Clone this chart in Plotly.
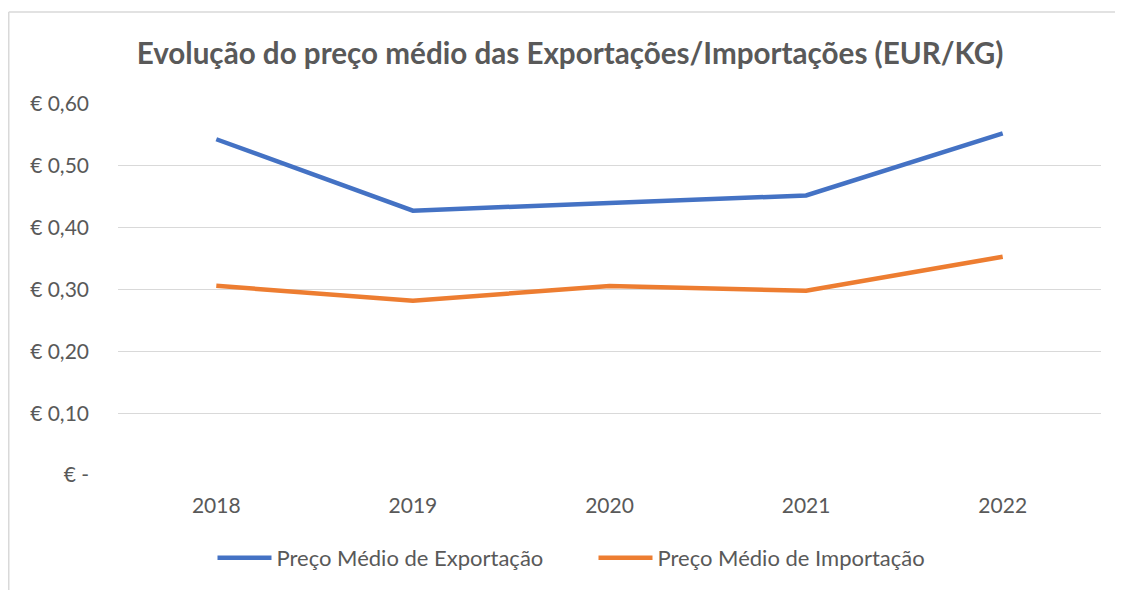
import plotly.graph_objects as go

years = ["2018", "2019", "2020", "2021", "2022"]
export_price = [0.543, 0.4275, 0.440, 0.452, 0.5525]
import_price = [0.306, 0.282, 0.3055, 0.298, 0.353]
y_tickvals = [0, 0.1, 0.2, 0.3, 0.4, 0.5, 0.6]
y_ticktext = ["€ -", "€ 0,10", "€ 0,20", "€ 0,30", "€ 0,40", "€ 0,50", "€ 0,60"]

FONT = "Lato"
GRAY = "#595959"

fig = go.Figure()
fig.add_trace(go.Scatter(x=years, y=export_price, mode="lines",
                         name="Preço Médio de Exportação",
                         line=dict(color="#4472C4", width=4.5)))
fig.add_trace(go.Scatter(x=years, y=import_price, mode="lines",
                         name="Preço Médio de Importação",
                         line=dict(color="#ED7D31", width=4.5)))

# page body has an 8px margin; positions below are in figure pixels
OFF = 8
W, H = 1123, 590
L, T = 118 - OFF, 104 - OFF
R = W - (1101 - OFF)
B = H - (475 - OFF)
pw, ph = W - L - R, H - T - B

def fx(px):  # screen px -> paper x
    return (px - OFF - L) / pw

def fy(py):  # screen px -> paper y
    return (H - B - (py - OFF)) / ph

fig.update_layout(
    width=W, height=H,
    margin=dict(l=L, r=R, t=T, b=B),
    paper_bgcolor="white", plot_bgcolor="white",
    font=dict(family=FONT, color=GRAY, size=21),
    title=dict(text="<b>Evolução do preço médio das Exportações/Importações (EUR/KG)</b>",
               x=(570 - OFF) / W, xanchor="center", y=1 - (54 - OFF) / H, yanchor="middle",
               font=dict(family=FONT, size=29.6, color=GRAY)),
    xaxis=dict(type="category", range=[-0.5, 4.5], showgrid=False, showline=False,
               zeroline=False, ticks="", tickfont=dict(size=21, color=GRAY),
               ticklabelstandoff=16),
    yaxis=dict(range=[0, 0.6], tickvals=y_tickvals, ticktext=y_ticktext,
               showgrid=True, gridcolor="#d9d9d9", gridwidth=1.3, zeroline=False,
               showline=False, ticks="", tickfont=dict(size=21, color=GRAY),
               ticklabelstandoff=28),
    showlegend=True,
    legend=dict(orientation="h", x=fx(593.5), xanchor="center",
                y=fy(558), yanchor="middle",
                font=dict(size=22, color=GRAY), itemwidth=54,
                entrywidth=312, entrywidthmode="pixels"),
    shapes=[
        dict(type="line", xref="paper", yref="paper",
             x0=fx(8.75), x1=fx(1131),
             y0=fy(12), y1=fy(12),
             line=dict(color="#d9d9d9", width=1.5)),
        dict(type="line", xref="paper", yref="paper",
             x0=fx(8.75), x1=fx(8.75),
             y0=fy(12), y1=fy(600),
             line=dict(color="#d9d9d9", width=1.5)),
    ],
)

fig.write_html("out.html")
